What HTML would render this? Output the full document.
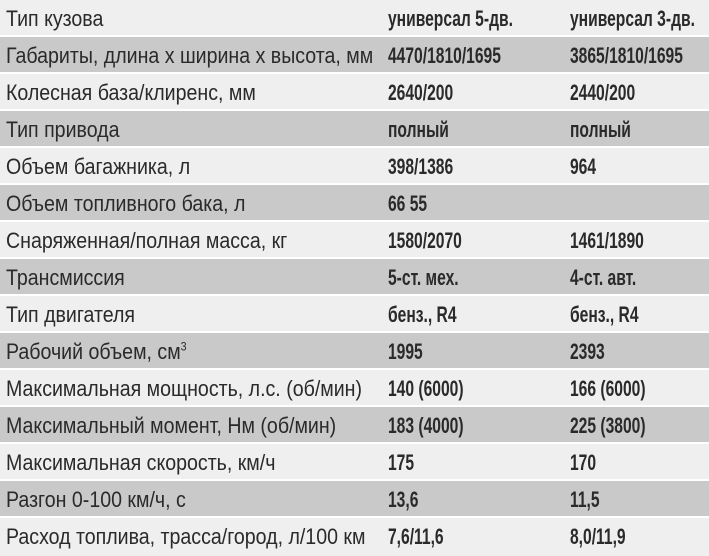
<!DOCTYPE html><html><head><meta charset="utf-8"><style>
body{margin:0;width:709px;height:556px;background:#fff;overflow:hidden;font-family:"Liberation Sans",sans-serif;color:#2a2a2a}
.r{position:absolute;left:0;width:709px;height:35px;line-height:37px;font-size:22px;white-space:nowrap}
.l{background:#efefef}.d{background:#c9c9c9}
.a{position:absolute;left:6px;transform:scaleX(0.89);transform-origin:left}
.b,.c{position:absolute;font-weight:bold;transform:scaleX(0.71);transform-origin:left}
.b{left:388px}.c{left:570px}
sup{font-size:12px;line-height:0}
</style></head><body>
<div class="r l" style="top:0"><span class="a">Тип кузова</span><span class="b">универсал 5-дв.</span><span class="c">универсал 3-дв.</span></div>
<div class="r d" style="top:37px"><span class="a">Габариты, длина x ширина x высота, мм</span><span class="b">4470/1810/1695</span><span class="c">3865/1810/1695</span></div>
<div class="r l" style="top:74px"><span class="a">Колесная база/клиренс, мм</span><span class="b">2640/200</span><span class="c">2440/200</span></div>
<div class="r d" style="top:111px"><span class="a">Тип привода</span><span class="b">полный</span><span class="c">полный</span></div>
<div class="r l" style="top:148px"><span class="a">Объем багажника, л</span><span class="b">398/1386</span><span class="c">964</span></div>
<div class="r d" style="top:185px"><span class="a">Объем топливного бака, л</span><span class="b">66 55</span></div>
<div class="r l" style="top:222px"><span class="a">Снаряженная/полная масса, кг</span><span class="b">1580/2070</span><span class="c">1461/1890</span></div>
<div class="r d" style="top:259px"><span class="a">Трансмиссия</span><span class="b">5-ст. мех.</span><span class="c">4-ст. авт.</span></div>
<div class="r l" style="top:296px"><span class="a">Тип двигателя</span><span class="b">бенз., R4</span><span class="c">бенз., R4</span></div>
<div class="r d" style="top:333px"><span class="a">Рабочий объем, см<sup>3</sup></span><span class="b">1995</span><span class="c">2393</span></div>
<div class="r l" style="top:370px"><span class="a">Максимальная мощность, л.с. (об/мин)</span><span class="b">140 (6000)</span><span class="c">166 (6000)</span></div>
<div class="r d" style="top:407px"><span class="a">Максимальный момент, Нм (об/мин)</span><span class="b">183 (4000)</span><span class="c">225 (3800)</span></div>
<div class="r l" style="top:444px"><span class="a">Максимальная скорость, км/ч</span><span class="b">175</span><span class="c">170</span></div>
<div class="r d" style="top:481px"><span class="a">Разгон 0-100 км/ч, с</span><span class="b">13,6</span><span class="c">11,5</span></div>
<div class="r l" style="top:518px;height:38px"><span class="a">Расход топлива, трасса/город, л/100 км</span><span class="b">7,6/11,6</span><span class="c">8,0/11,9</span></div>
</body></html>
